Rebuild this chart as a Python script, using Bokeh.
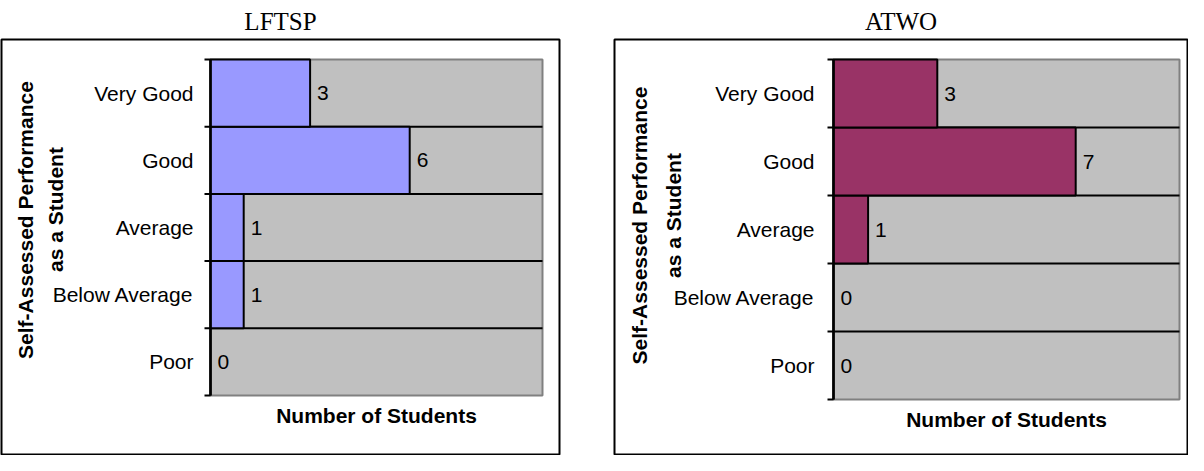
import numpy as np
from bokeh.plotting import figure
from bokeh.models import Range1d, ColumnDataSource
from bokeh.layouts import row
from bokeh.embed import file_html
from bokeh.resources import INLINE
from bokeh.core.properties import value

# ---- data ----
categories = ["Poor", "Below Average", "Average", "Good", "Very Good"]
lftsp_counts = [0, 1, 1, 6, 3]
atwo_counts = [0, 0, 1, 7, 3]
x_axis_max = 10
chart_titles = ["LFTSP", "ATWO"]
y_title_lines = ["Self-Assessed Performance", "as a Student"]
x_title = "Number of Students"

SANS = "Liberation Sans"
SERIF = "Liberation Serif"
H = 455


def make_chart(title, counts, bar_color, canvas_w, box, plot, label_gap,
               yt_dx, yt_dy):
    box_left, box_right, box_top, box_bottom = box
    plot_left, plot_right, plot_top, plot_bottom = plot
    n = len(categories)
    sx = (plot_right - plot_left) / x_axis_max
    sy = (plot_bottom - plot_top) / n
    x_rng = Range1d((box_left - plot_left) / sx,
                    x_axis_max + (box_right - plot_right) / sx)
    y_rng = Range1d(-(box_bottom - plot_bottom) / sy,
                    n + (plot_top - box_top) / sy)

    p = figure(x_range=x_rng, y_range=y_rng,
               frame_width=box_right - box_left,
               frame_height=box_bottom - box_top,
               min_border_left=box_left,
               min_border_right=canvas_w - box_right,
               min_border_top=box_top,
               min_border_bottom=H - box_bottom,
               x_axis_type=None, y_axis_type=None,
               toolbar_location=None, output_backend="svg",
               background_fill_color="white", border_fill_color="white",
               outline_line_color="black", outline_line_width=2)
    p.title.text = title
    p.title.align = "center"
    p.title.text_font = SERIF
    p.title.text_font_size = "25px"
    p.title.text_font_style = "normal"
    p.title.text_color = "black"
    p.title.standoff = 10

    centers = np.arange(n) + 0.5
    bounds = np.arange(n + 1)

    # plot area
    p.quad(left=[0], right=[x_axis_max], bottom=[0], top=[n],
           fill_color="#C0C0C0", line_color="#808080", line_width=2)
    # horizontal grid at band boundaries
    inner = bounds[1:-1]
    p.segment(x0=[0] * len(inner), x1=[x_axis_max] * len(inner),
              y0=inner, y1=inner, line_color="black", line_width=2)

    src = ColumnDataSource(dict(y=centers, v=counts,
                                lab=[str(c) for c in counts],
                                cat=categories, zero=[0] * n))
    p.hbar(y="y", left="zero", right="v", height=1.0, source=src,
           fill_color=bar_color, line_color="black", line_width=2)

    # axis line and ticks
    p.segment(x0=[0], x1=[0], y0=[0], y1=[n], line_color="black",
              line_width=2.5)
    tick = 6 / sx
    p.segment(x0=[-tick] * len(bounds), x1=[0] * len(bounds),
              y0=bounds, y1=bounds, line_color="black", line_width=2)

    # value labels
    p.text(x="v", y="y", text="lab", source=src, x_offset=7,
           text_align="left", text_baseline="middle",
           text_font=value(SANS), text_font_size="21px", text_color="black")
    # category labels
    p.text(x="zero", y="y", text="cat", source=src, x_offset=-label_gap,
           text_align="right", text_baseline="middle",
           text_font=value(SANS), text_font_size="21px", text_color="black")
    # y title (two lines)
    for line, dx, dy in zip(y_title_lines, yt_dx, yt_dy):
        p.text(x=[0], y=[n / 2], text=[line], x_offset=dx, y_offset=dy,
               angle=np.pi / 2, text_align="center", text_baseline="middle",
               text_font=value(SANS), text_font_size="21px",
               text_font_style="bold", text_color="black")
    # x title
    p.text(x=[x_axis_max / 2], y=[0], text=[x_title], y_offset=20,
           text_align="center", text_baseline="middle",
           text_font=value(SANS), text_font_size="21px",
           text_font_style="bold", text_color="black")
    return p


p1 = make_chart(chart_titles[0], lftsp_counts, "#9999FF", 587,
                box=(1, 559, 39, 454), plot=(210, 542, 59, 395),
                label_gap=17, yt_dx=(-185.5, -155), yt_dy=(-7.5, -18))
p2 = make_chart(chart_titles[1], atwo_counts, "#993366", 601,
                box=(27, 600, 39, 455), plot=(246, 592, 59, 399),
                label_gap=19, yt_dx=(-194, -160), yt_dy=(-4, -14))

layout = row(p1, p2)
open("out.html", "w").write(file_html(layout, INLINE))
